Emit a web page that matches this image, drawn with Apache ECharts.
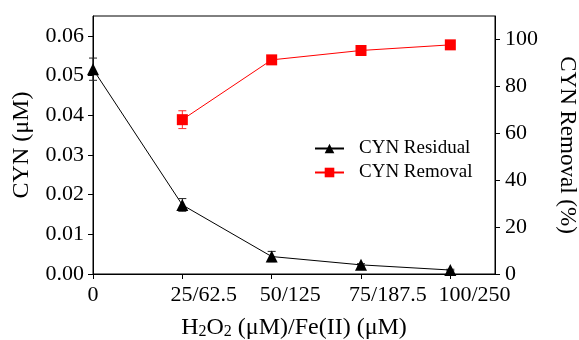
<!DOCTYPE html>
<html>
<head>
<meta charset="utf-8">
<script src="https://cdn.jsdelivr.net/npm/echarts@6/dist/echarts.min.js"></script>
<style>
  html, body { margin: 0; padding: 0; background: #fff; }
  #chart { width: 579px; height: 340px; }
</style>
</head>
<body>
<div id="chart"></div>
<script>
// Dose levels: H2O2 (uM) / Fe(II) (uM)
const doseLabels = ['0', '25/62.5', '50/125', '75/187.5', '100/250'];

// Residual cylindrospermopsin concentration (uM) and its error
const residual = [0.0516, 0.0174, 0.0044, 0.0023, 0.0010];
const residualErr = [0.0028, 0.0016, 0.0013, 0.0003, 0.0002];

// Removal (%) — not defined at dose 0
const removal = [null, 65.8, 91.3, 95.3, 97.7];
const removalErr = [null, 3.8, 1.6, 0.6, 0.5];

// Axis ticks
const leftTicks = [0, 0.01, 0.02, 0.03, 0.04, 0.05, 0.06];
const rightTicks = [0, 20, 40, 60, 80, 100];
const xTicks = [0, 1, 2, 3, 4];

const FONT = 'Liberation Serif';

// Ratio labels sit in a fixed-width box, text flush left, so that they start
// a little before their tick; the plain "0" stays centred on its tick.
const RATIO_BOX = 90;          // px
const RATIO_SHIFT = 0.37;      // axis units, moves each box centre right of its tick
const labelAnchors = xTicks.map((t) => (t === 0 ? 0 : t + RATIO_SHIFT));

const pairs = (vals) => vals.map((v, i) => v == null ? null : [i, v]).filter(Boolean);
const errTriples = (vals, errs) => vals.map((v, i) => v == null ? null : [i, v, errs[i]]).filter(Boolean);

function errorBar(color) {
  return function (params, api) {
    const x = api.value(0), y = api.value(1), e = api.value(2);
    const top = api.coord([x, y + e]);
    const bot = api.coord([x, y - e]);
    const w = 4;
    const style = { stroke: color, lineWidth: 1 };
    return {
      type: 'group',
      children: [
        { type: 'line', shape: { x1: top[0], y1: top[1], x2: bot[0], y2: bot[1] }, style },
        { type: 'line', shape: { x1: top[0] - w, y1: top[1], x2: top[0] + w, y2: top[1] }, style },
        { type: 'line', shape: { x1: bot[0] - w, y1: bot[1], x2: bot[0] + w, y2: bot[1] }, style }
      ]
    };
  };
}

const chart = echarts.init(document.getElementById('chart'));
chart.setOption({
  animation: false,
  backgroundColor: '#fff',
  textStyle: { fontFamily: FONT, color: '#000' },
  grid: {
    left: 93, right: 84, top: 16, bottom: 66,
    outerBoundsMode: 'none',
    containLabel: false,
    show: true, borderColor: '#000', borderWidth: 1, backgroundColor: 'transparent'
  },
  legend: {
    left: 309, top: 134,
    orient: 'vertical',
    itemWidth: 29, itemHeight: 12, itemGap: 5,
    textStyle: { fontFamily: FONT, fontSize: 19, color: '#000', padding: [0, 0, 0, 10] },
    data: ['CYN Residual', 'CYN Removal']
  },
  xAxis: {
    type: 'value',
    min: 0, max: 4.5, interval: 1,
    name: '{t|H}{s|2}{t|O}{s|2}{t| (μM)/Fe(II) (μM)}',
    nameLocation: 'middle',
    nameGap: 41,
    nameTextStyle: {
      rich: {
        t: { fontFamily: FONT, fontSize: 24, color: '#000' },
        s: { fontFamily: FONT, fontSize: 16, color: '#000', verticalAlign: 'bottom', padding: [9, 0, 0, 0] }
      }
    },
    axisLine: { lineStyle: { color: '#000', width: 1 } },
    axisTick: { customValues: xTicks, length: 5, lineStyle: { color: '#000' } },
    axisLabel: {
      customValues: labelAnchors,
      align: 'center',
      formatter: (v) => {
        const i = Math.floor(v + 1e-9);
        return i === 0 ? '{z|' + doseLabels[0] + '}' : '{r|' + doseLabels[i] + '}';
      },
      rich: {
        z: { fontFamily: FONT, fontSize: 22, color: '#000' },
        r: { fontFamily: FONT, fontSize: 22, color: '#000', width: RATIO_BOX, align: 'left' }
      },
      fontFamily: FONT, fontSize: 22, color: '#000', margin: 10
    },
    splitLine: { show: false }
  },
  yAxis: [
    {
      type: 'value',
      min: 0, max: 0.065, interval: 0.01,
      name: 'CYN (μM)',
      nameLocation: 'middle',
      nameGap: 59,
      nameTextStyle: { fontFamily: FONT, fontSize: 24, color: '#000' },
      axisLine: { show: true, lineStyle: { color: '#000', width: 1 } },
      axisTick: { show: true, customValues: leftTicks, length: 5, lineStyle: { color: '#000' } },
      axisLabel: {
        customValues: leftTicks,
        formatter: (v) => v.toFixed(2),
        fontFamily: FONT, fontSize: 22, color: '#000', margin: 9
      },
      splitLine: { show: false }
    },
    {
      type: 'value',
      position: 'right',
      min: 0, max: 110, interval: 20,
      name: 'CYN Removal (%)',
      nameLocation: 'middle',
      nameRotate: -90,
      nameGap: 61,
      nameTextStyle: { fontFamily: FONT, fontSize: 23, color: '#000' },
      axisLine: { show: true, lineStyle: { color: '#000', width: 1 } },
      axisTick: { show: true, customValues: rightTicks, length: 5, lineStyle: { color: '#000' } },
      axisLabel: {
        customValues: rightTicks,
        fontFamily: FONT, fontSize: 22, color: '#000', margin: 10
      },
      splitLine: { show: false }
    }
  ],
  series: [
    {
      type: 'custom',
      name: 'residualErr',
      yAxisIndex: 0,
      renderItem: errorBar('#222'),
      data: errTriples(residual, residualErr),
      z: 1
    },
    {
      type: 'custom',
      name: 'removalErr',
      yAxisIndex: 1,
      renderItem: errorBar('#ff2a2a'),
      data: errTriples(removal, removalErr),
      z: 1
    },
    {
      name: 'CYN Residual',
      type: 'line',
      yAxisIndex: 0,
      data: pairs(residual),
      symbol: 'triangle',
      symbolSize: 12,
      lineStyle: { color: '#000', width: 1 },
      itemStyle: { color: '#000' },
      z: 3
    },
    {
      name: 'CYN Removal',
      type: 'line',
      yAxisIndex: 1,
      data: pairs(removal),
      symbol: 'rect',
      symbolSize: 11,
      lineStyle: { color: '#ff0000', width: 1 },
      itemStyle: { color: '#ff0000' },
      z: 3
    }
  ]
});
</script>
</body>
</html>
